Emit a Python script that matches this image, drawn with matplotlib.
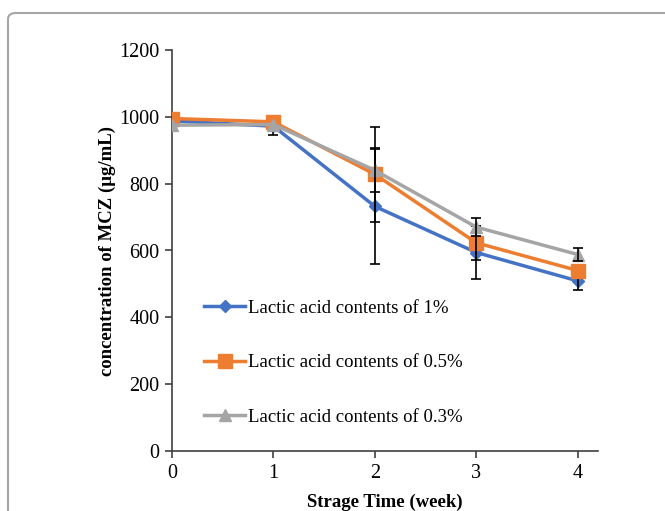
import matplotlib
matplotlib.use("Agg")
import matplotlib.pyplot as plt
import numpy as np
from matplotlib.patches import FancyBboxPatch

plt.rcParams['font.family'] = ['Liberation Serif', 'DejaVu Serif']

weeks = [0, 1, 2, 3, 4]
conc_1 = [988, 972, 732, 594, 509]
conc_05 = [995, 985, 828, 623, 540]
conc_03 = [975, 977, 840, 670, 588]
err_1 = [0, 25, 173, 78, 26]
err_05 = [0, 0, 143, 51, 0]
err_03 = [0, 0, 66, 27, 20]
labels = ["Lactic acid contents of 1%",
          "Lactic acid contents of 0.5%",
          "Lactic acid contents of 0.3%"]
colors = ["#4472C4", "#ED7D31", "#A5A5A5"]
markers = ["D", "s", "^"]
msizes = [6.5, 9.5, 9]

fig = plt.figure(figsize=(6.65, 5.11), dpi=100)

# rounded frame around the chart (runs off the right/bottom edge)
frame = FancyBboxPatch((8 / 665, 1 - 600 / 511), 720 / 665, 587 / 511,
                       boxstyle="round,pad=0,rounding_size=0.012",
                       transform=fig.transFigure, fill=False,
                       edgecolor="#a6a6a6", linewidth=1.5, clip_on=False)
fig.patches.append(frame)

ax = fig.add_axes([172 / 665, 1 - 451 / 511, 426 / 665, 401 / 511])

series = [(conc_1, err_1), (conc_05, err_05), (conc_03, err_03)]
for i, ((vals, errs), lab, col, mk, ms) in enumerate(
        zip(series, labels, colors, markers, msizes)):
    z = 3 + i * 0.1
    ax.plot(weeks, vals, color=col, marker=mk, markersize=ms, linewidth=2.5,
            label=lab, zorder=z)
    # only draw the bars that have a non-zero error
    x = np.array(weeks)
    v = np.array(vals)
    e = np.array(errs)
    keep = e > 0
    ax.errorbar(x[keep], v[keep], yerr=e[keep], fmt="none", ecolor="black",
                elinewidth=1.2, capsize=3.5, capthick=1.2, zorder=z + 0.05)

ax.set_xlim(0, 4.2)
ax.set_ylim(0, 1200)
ax.set_xticks(weeks)
ax.set_yticks(range(0, 1201, 200))
ax.spines["top"].set_visible(False)
ax.spines["right"].set_visible(False)
for s in ["left", "bottom"]:
    ax.spines[s].set_color("#404040")
    ax.spines[s].set_linewidth(1.2)
ax.tick_params(direction="out", length=5, width=1.2, color="#404040",
               labelsize=14.5, pad=4)

ax.set_xlabel("Strage Time (week)", fontsize=13.5, fontweight="bold", labelpad=8)
ax.set_ylabel("concentration of MCZ (μg/mL)", fontsize=13.5, fontweight="bold",
              labelpad=2)

ax.legend(loc="upper left", bbox_to_anchor=(0.075, 0.378), frameon=False,
          fontsize=13.5, handlelength=2.2, handletextpad=0.15, labelspacing=2.0,
          borderpad=0, borderaxespad=0, numpoints=1)

fig.savefig("out.png", dpi=100)
